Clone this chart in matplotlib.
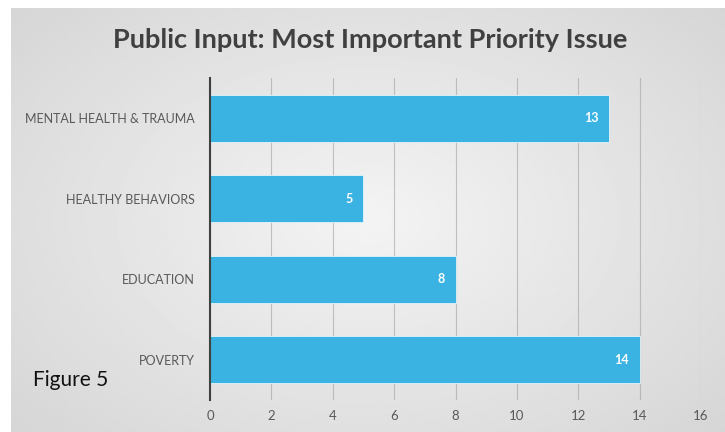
import numpy as np
from matplotlib import pyplot as plt

categories = ['POVERTY', 'EDUCATION', 'HEALTHY BEHAVIORS', 'MENTAL HEALTH & TRAUMA']
values = [14, 8, 5, 13]
xticks = [0, 2, 4, 6, 8, 10, 12, 14, 16]

plt.rcParams['font.family'] = ['Lato', 'DejaVu Sans']

fig = plt.figure(figsize=(7.25, 4.32), dpi=100)

# background panel with radial gradient
bg = fig.add_axes([11/725, 0, 1 - 11/725, 1 - 8/432])
yy, xx = np.mgrid[-1:1:200j, -1:1:300j]
r = np.sqrt((xx / 1.0) ** 2 + (yy / 1.1) ** 2)
shade = 0.955 - 0.12 * np.clip(r, 0, 1.4) / 1.4
bg.imshow(shade, cmap='gray', vmin=0, vmax=1, aspect='auto', extent=[0, 1, 0, 1])
bg.set_axis_off()

ax = fig.add_axes([210/725, 1 - 400/432, 491/725, 322/432])
ax.patch.set_alpha(0)
pos = np.arange(len(categories))
ax.barh(pos, values, height=0.59, color='#3AB3E3', edgecolor='#e6f4fa',
        linewidth=0.6, zorder=3)
for p, v in zip(pos, values):
    ax.text(v - 0.35, p, str(v), color='white', fontweight='bold', fontsize=9,
            ha='right', va='center', zorder=4)

ax.set_xlim(0, 16)
ax.set_ylim(-0.5, 3.5)
ax.set_xticks(xticks)
ax.set_xticklabels([str(t) for t in xticks])
ax.set_yticks(pos)
ax.set_yticklabels(categories)
ax.grid(axis='x', color='#9a9a9a', linewidth=0.8, alpha=0.55, zorder=1)
for s in ['top', 'right', 'bottom']:
    ax.spines[s].set_visible(False)
ax.spines['left'].set_color('#404040')
ax.spines['left'].set_linewidth(1.5)
ax.spines['left'].set_zorder(5)
ax.tick_params(axis='both', length=0, colors='#595959', labelsize=9)
ax.tick_params(axis='x', pad=7, labelsize=9.5)
ax.tick_params(axis='y', pad=11)

fig.text(0.51, 1 - 40/432, 'Public Input: Most Important Priority Issue',
         ha='center', va='center', fontsize=19.5, fontweight='bold', color='#404040')
fig.text(33/725, 1 - 380/432, 'Figure 5', ha='left', va='center', fontsize=15,
         color='#111111')

fig.savefig('out.png', dpi=100)
